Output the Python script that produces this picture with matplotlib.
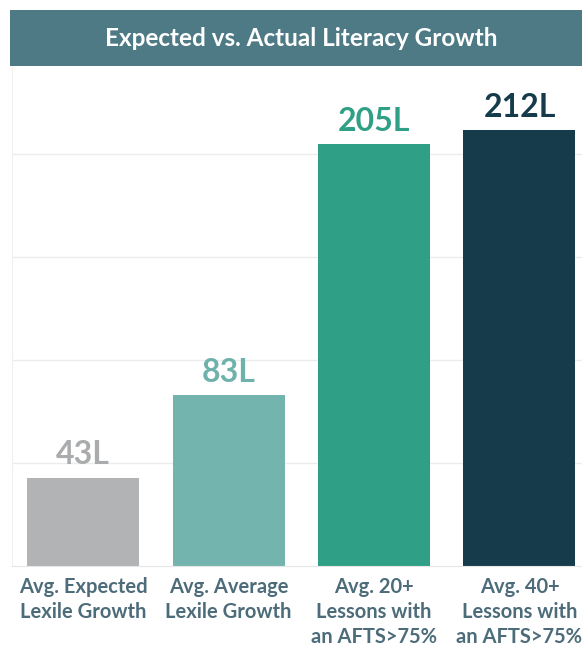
import matplotlib.pyplot as plt
from matplotlib.patches import Rectangle

categories = ["Avg. Expected\nLexile Growth", "Avg. Average\nLexile Growth",
              "Avg. 20+\nLessons with\nan AFTS>75%", "Avg. 40+\nLessons with\nan AFTS>75%"]
values = [43, 83, 205, 212]
labels = ["43L", "83L", "205L", "212L"]
colors = ["#b1b3b5", "#73b4ae", "#2f9f86", "#163b4b"]
label_colors = ["#a9abad", "#6fb1ab", "#2f9f86", "#163b4b"]

plt.rcParams["font.family"] = ["Lato", "DejaVu Sans"]

fig = plt.figure(figsize=(5.82, 6.5), dpi=100)

# title bar
fig.patches.append(Rectangle((10 / 582, 1 - 66 / 650), 1 - 10 / 582, 56 / 650,
                             transform=fig.transFigure, facecolor="#4e7a85",
                             edgecolor="none", zorder=0))
fig.text(0.518, 1 - 39 / 650, "Expected vs. Actual Literacy Growth", color="white",
         fontsize=17.5, fontweight="bold", ha="center", va="center")

ax = fig.add_axes([12 / 582, 1 - 566 / 650, 1 - 12 / 582, 500 / 650])
x = range(len(values))
ax.bar(x, values, width=0.77, color=colors, zorder=2)
for i, v in enumerate(values):
    ax.text(i, v + 4, labels[i], ha="center", va="bottom", fontsize=23,
            fontweight="bold", color=label_colors[i])

ax.set_xlim(-0.49, 3.43)
ax.set_ylim(0, 243)
ax.set_yticks([50, 100, 150, 200])
ax.yaxis.grid(True, color="#ececec", linewidth=1, zorder=0)
ax.tick_params(axis="y", left=False, labelleft=False)
ax.tick_params(axis="x", length=0, pad=8)
ax.set_xticks(list(x))
ax.set_xticklabels(categories, fontsize=14.5, fontweight="bold", color="#4d6c7a",
                   linespacing=1.32)
for s in ["top", "right"]:
    ax.spines[s].set_visible(False)
ax.spines["left"].set_color("#f0f0f0")
ax.spines["bottom"].set_color("#e6e6e6")

fig.savefig("out.png", dpi=100)
